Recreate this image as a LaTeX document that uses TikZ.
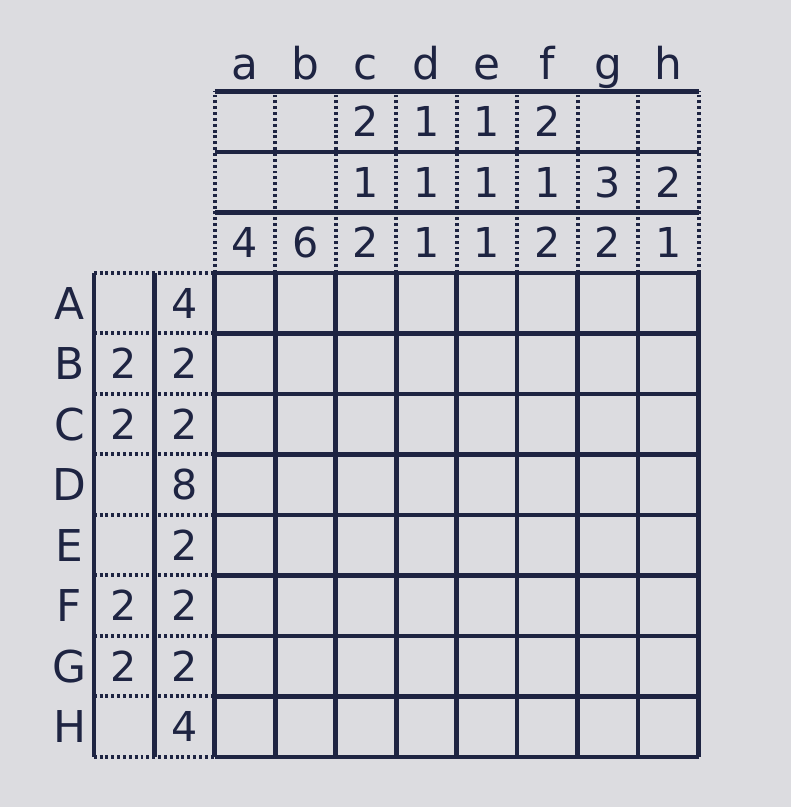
\documentclass[tikz,border=0pt]{standalone}
\usepackage{fontspec}
\setmainfont{DejaVu Sans}
\definecolor{ink}{HTML}{1E2442}
\definecolor{screen}{HTML}{DCDCE0}
\tikzset{
  solidline/.style={ink, line width=3.4pt},
  dotline/.style={ink, line width=2.8pt, dash pattern=on 2.2pt off 2.2pt},
  clue/.style={font=\fontsize{31}{31}\selectfont, text=ink, inner sep=0pt},
  label/.style={font=\fontsize{33}{33}\selectfont, text=ink, inner sep=0pt}
}
\begin{document}
\begin{tikzpicture}[x=1.6cm,y=1.6cm]
    \fill[screen] (-3.55,4.51) rectangle (9.52,-8.83);
    \useasboundingbox (-3.55,4.51) rectangle (9.52,-8.83);
    % column clue box
    \foreach \i in {0,...,8}
        \draw[dotline] (\i,0) -- (\i,3);
    \foreach \j in {1,2,3}
        \draw[solidline] (0,\j) -- (8,\j);
    % row clue box
    \foreach \j in {0,...,8}
        \draw[dotline] (-2,-\j) -- (0,-\j);
    \draw[solidline] (-2,0) -- (-2,-8);
    \draw[solidline] (-1,0) -- (-1,-8);
    % main grid
    \foreach \i in {0,...,8}{
        \draw[solidline] (\i,0) -- (\i,-8);
        \draw[solidline] (0,-\i) -- (8,-\i);
    }
    % column names and row names
    \foreach \n [count=\i from 0] in {a,b,c,d,e,f,g,h}
        \node[label, anchor=base] (col\n) at (\i+0.5,3.19) {\n};
    \foreach \n [count=\j from 0] in {A,B,C,D,E,F,G,H}
        \node[label] (row\n) at (-2.4,-\j-0.5) {\n};
    % column clues
    \foreach \x/\y/\v in {2/2/2, 3/2/1, 4/2/1, 5/2/2,
                          2/1/1, 3/1/1, 4/1/1, 5/1/1, 6/1/3, 7/1/2,
                          0/0/4, 1/0/6, 2/0/2, 3/0/1, 4/0/1, 5/0/2, 6/0/2, 7/0/1}
        \node[clue] (cc\x\y) at (\x+0.5,\y+0.5) {\v};
    % row clues
    \foreach \x/\y/\v in {-2/1/2, -2/2/2, -2/5/2, -2/6/2,
                          -1/0/4, -1/1/2, -1/2/2, -1/3/8, -1/4/2, -1/5/2, -1/6/2, -1/7/4}
        \node[clue] (rc\x\y) at (\x+0.5,-\y-0.5) {\v};
\end{tikzpicture}
\end{document}
